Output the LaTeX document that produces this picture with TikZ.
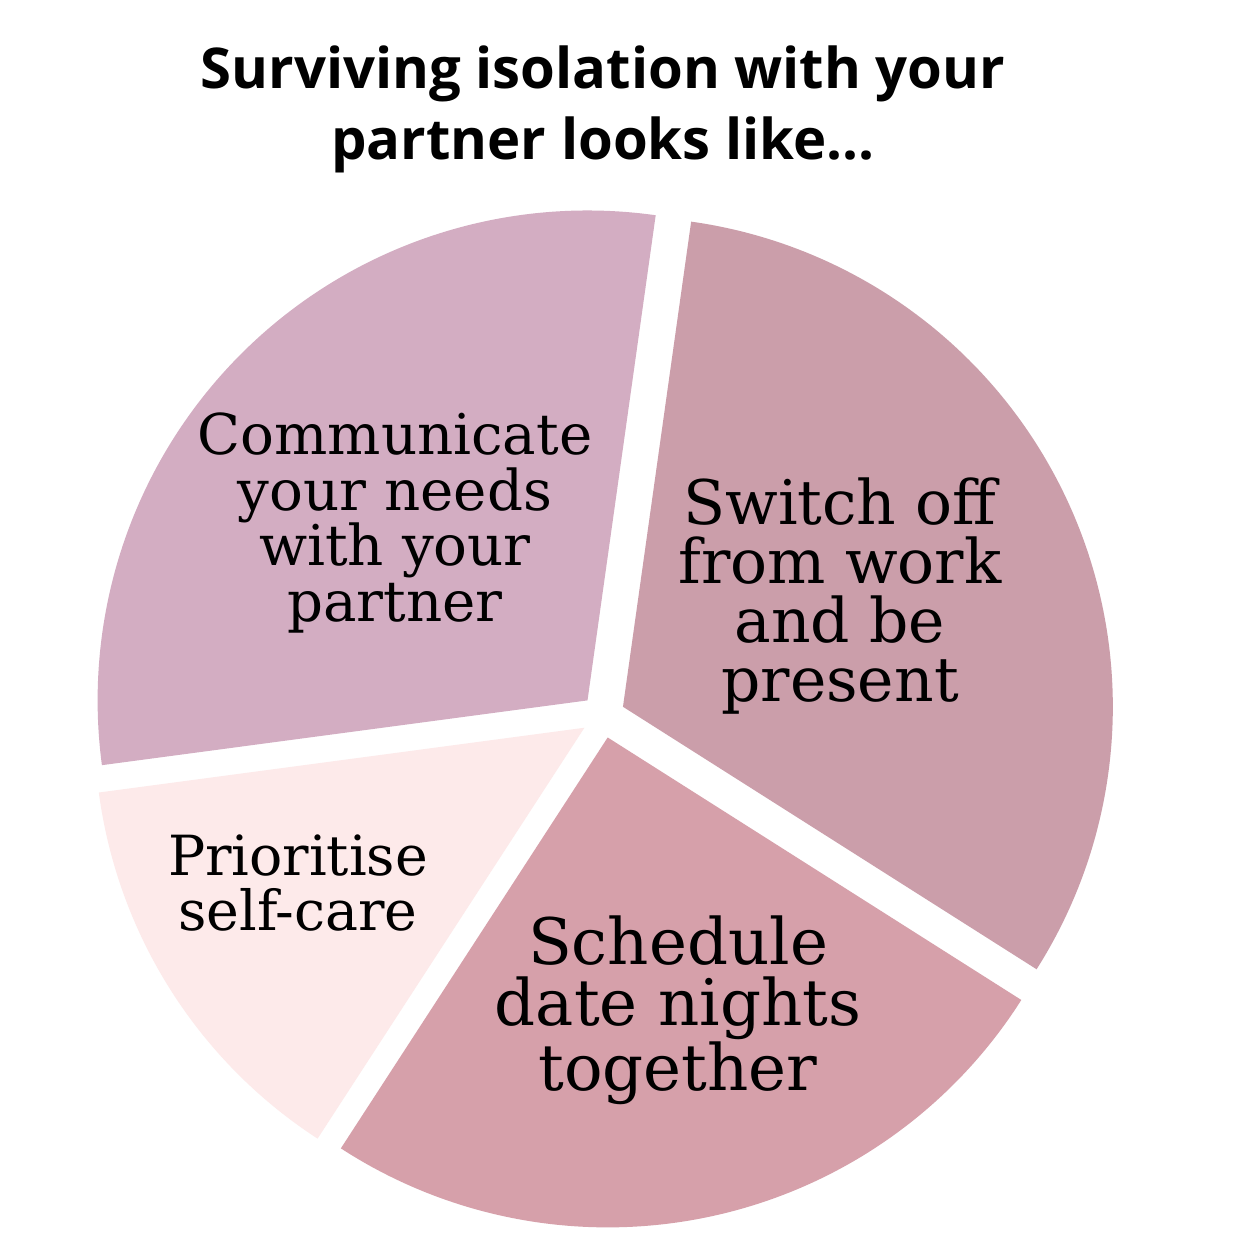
\documentclass[tikz,border=0pt]{standalone}
\usepackage{fontspec}
\setmainfont{DejaVu Serif}
\setsansfont{Open Sans}
\usepackage{xcolor}
\usepackage{tikz}
\usetikzlibrary{calc}

\definecolor{lila}{RGB}{211,173,194}
\definecolor{malva}{RGB}{203,158,170}
\definecolor{rosa}{RGB}{214,160,170}
\definecolor{palo}{RGB}{253,234,234}

\begin{document}
\begin{tikzpicture}[x=0.02cm, y=0.02cm,
  titulo/.style={align=center, font=\sffamily\bfseries\fontsize{32}{40.5}\selectfont},
  rotulo/.style={align=center, inner sep=0pt},
  trozo/.style={draw=none}
]
  \fill[white] (0,0) rectangle (1245,1245);
  \useasboundingbox (0,0) rectangle (1245,1245);
  \coordinate (centro) at (603,529);

  % the four slices, each pushed out a little
  \fill[trozo, lila]  ($(centro)+(134.8:0.44cm)$) -- ++(82:9.8cm)    arc[start angle=82,    end angle=187.6, radius=9.8cm] -- cycle;
  \fill[trozo, palo]  ($(centro)+(212.3:0.44cm)$) -- ++(187.6:9.8cm) arc[start angle=187.6, end angle=237,   radius=9.8cm] -- cycle;
  \fill[trozo, rosa]  ($(centro)+(282.3:0.44cm)$) -- ++(237:9.8cm)   arc[start angle=237,   end angle=327.6, radius=9.8cm] -- cycle;
  \fill[trozo, malva] ($(centro)+(24.8:0.44cm)$)  -- ++(-32.4:9.8cm) arc[start angle=-32.4, end angle=82,    radius=9.8cm] -- cycle;

  \node[titulo] (tit) at (603,1136) {Surviving isolation with your\\partner looks like...};

  \node[rotulo, font=\fontsize{32}{31.7}\selectfont] (comunica) at (395,722) {Communicate\\your needs\\with your\\partner};
  \node[rotulo, font=\fontsize{35}{33.5}\selectfont] (desconecta) at (840,649) {Switch off\\from work\\and be\\present};
  \node[rotulo, font=\fontsize{36.5}{35}\selectfont] (cita) at (678,235) {Schedule\\date nights\\together};
  \node[rotulo, font=\fontsize{31.5}{31}\selectfont] (cuidado) at (298,362) {Prioritise\\self-care};
\end{tikzpicture}
\end{document}
